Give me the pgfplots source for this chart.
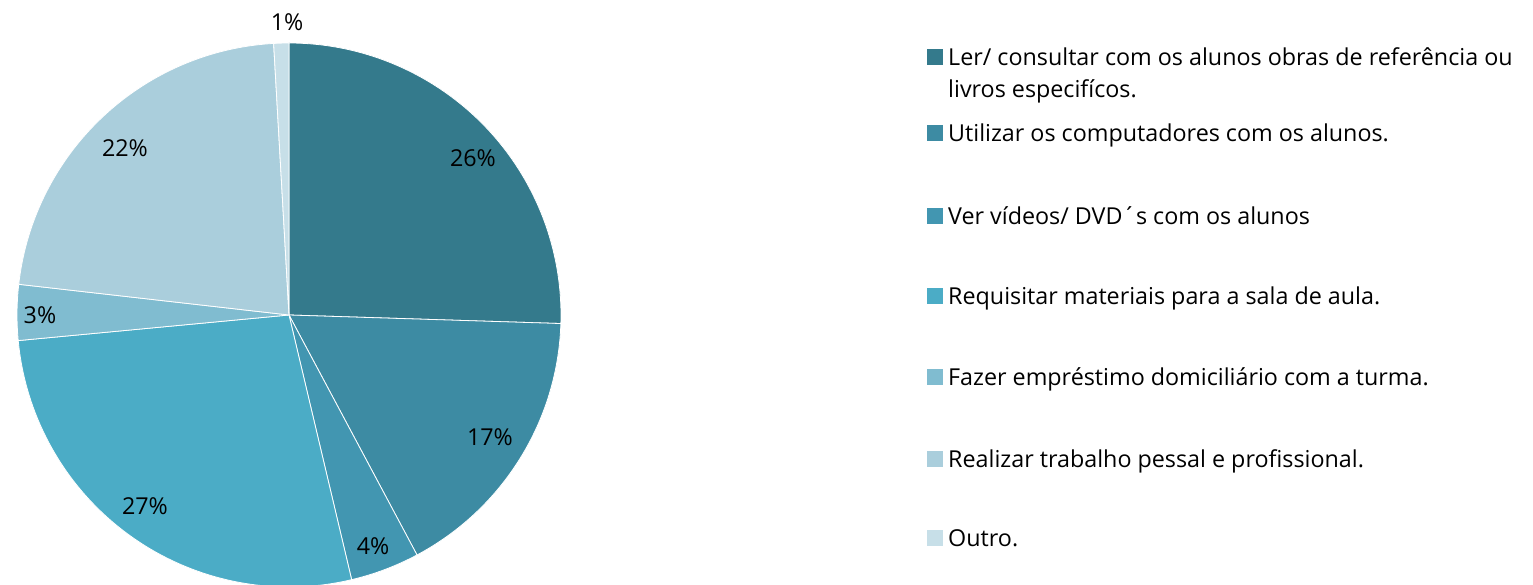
\documentclass[border=0pt]{standalone}
\usepackage{pgfplots}
\pgfplotsset{compat=1.18}
\usepackage{fontspec}
\setmainfont{Open Sans}

\definecolor{cA}{RGB}{52,122,140}
\definecolor{cB}{RGB}{61,139,163}
\definecolor{cC}{RGB}{66,150,177}
\definecolor{cD}{RGB}{75,172,198}
\definecolor{cE}{RGB}{128,188,208}
\definecolor{cF}{RGB}{170,206,220}
\definecolor{cG}{RGB}{199,223,232}

% share (%), label, colour, label x, label y (pixel grid, y up)
\def\piedata{25.5/26/cA/473/427, 16.7/17/cB/490/148, 4.1/4/cC/373/39,
  27.2/27/cD/145/79, 3.3/3/cE/40/270, 22.3/22/cF/125/437, 0.9/1/cG/287/563}

\begin{document}
\begin{tikzpicture}[x=1pt,y=1pt]
\begin{axis}[
    at={(0,0)}, anchor=south west,
    scale only axis,
    width=1533pt, height=585pt,
    xmin=0, xmax=1533, ymin=0, ymax=585,
    hide axis,
    clip=false,
    font=\fontsize{23.3}{27}\selectfont
]
\xdef\acc{90}
\foreach \v/\lab/\col/\lx/\ly in \piedata {
    \pgfmathsetmacro\aend{\acc-3.6*\v}
    \edef\temp{\noexpand\fill[\col, draw=white, line width=0.8pt, line join=round]
        (axis cs:289,270) -- ++(\acc:272pt)
        arc[start angle=\acc, end angle=\aend, radius=272pt] -- cycle;
        \noexpand\node at (axis cs:\lx,\ly) {\lab\noexpand\%};}
    \temp
    \xdef\acc{\aend}
}

% legend
\foreach \col/\bl/\txt in {cA/66/{Ler/ consultar com os alunos obras de referência ou},
    cB/142/{Utilizar os computadores com os alunos.},
    cC/225/{Ver vídeos/ DVD´s com os alunos},
    cD/305/{Requisitar materiais para a sala de aula.},
    cE/386/{Fazer empréstimo domiciliário com a turma.},
    cF/468/{Realizar trabalho pessal e profissional.},
    cG/547/{Outro.}} {
    \edef\temp{\noexpand\fill[\col] (axis cs:927,{585-\bl+1}) rectangle (axis cs:943,{585-\bl+17});
        \noexpand\node[anchor=base west, inner sep=0pt] at (axis cs:948,{585-\bl}) {\unexpanded\expandafter{\txt}};}
    \temp
}
\node[anchor=base west, inner sep=0pt] at (axis cs:948,487) {livros especifícos.};
\end{axis}
\pgfresetboundingbox
\path[use as bounding box] (0,0) rectangle (1533pt,585pt);
\end{tikzpicture}
\end{document}
